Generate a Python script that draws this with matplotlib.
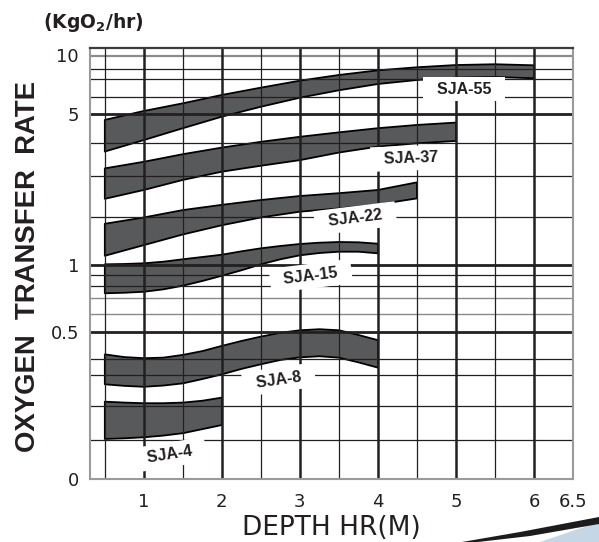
"""
Oxygen transfer rate vs depth for the SJA aerator range
"""

import numpy as np
import matplotlib
matplotlib.use('Agg')
import matplotlib.pyplot as plt
from matplotlib.patches import Polygon

# Donnees (KgO2/hr)
depth = [0.5, 1.0, 1.5, 2.0, 2.5, 3.0, 3.5, 4.0, 4.5, 5.0, 5.5, 6.0]
depth_q = [0.5, 0.75, 1.0, 1.25, 1.5, 1.75, 2.0, 2.25, 2.5, 2.75, 3.0, 3.25, 3.5, 3.75, 4.0]

sja55_hi = [4.79, 5.16, 5.61, 6.10, 6.52, 6.92, 7.42, 7.87, 8.13, 8.30, 8.36, 8.28]
sja55_lo = [3.75, 4.11, 4.51, 4.90, 5.41, 5.94, 6.37, 6.73, 6.96, 7.16, 7.22, 7.10]

sja37_hi = [3.24, 3.44, 3.67, 3.87, 4.05, 4.22, 4.37, 4.51, 4.62, 4.70]
sja37_lo = [2.44, 2.66, 2.91, 3.14, 3.32, 3.49, 3.72, 3.90, 4.00, 4.08]

sja22_hi = [1.85, 1.98, 2.16, 2.29, 2.41, 2.51, 2.58, 2.66, 2.85]
sja22_lo = [1.19, 1.41, 1.63, 1.82, 1.98, 2.12, 2.20, 2.30, 2.45]

sja15_hi = [1.014, 1.021, 1.035, 1.068, 1.118, 1.165, 1.212, 1.282, 1.344, 1.392,
            1.433, 1.460, 1.474, 1.468, 1.439]
sja15_lo = [0.740, 0.744, 0.752, 0.771, 0.800, 0.844, 0.893, 0.947, 1.014, 1.118,
            1.200, 1.247, 1.274, 1.274, 1.241]

sja8_hi = [0.417, 0.407, 0.403, 0.405, 0.415, 0.429, 0.448, 0.466, 0.482, 0.496,
           0.508, 0.514, 0.508, 0.488, 0.469]
sja8_lo = [0.270, 0.265, 0.262, 0.266, 0.273, 0.287, 0.304, 0.338, 0.367, 0.394,
           0.406, 0.410, 0.405, 0.379, 0.346]

sja4_hi = [0.214, 0.211, 0.209, 0.209, 0.211, 0.217, 0.227]
sja4_lo = [0.103, 0.105, 0.108, 0.113, 0.120, 0.132, 0.144]

models = ['SJA-55', 'SJA-37', 'SJA-22', 'SJA-15', 'SJA-8', 'SJA-4']
bands = [(depth, sja55_hi, sja55_lo), (depth, sja37_hi, sja37_lo),
         (depth, sja22_hi, sja22_lo), (depth_q, sja15_hi, sja15_lo),
         (depth_q, sja8_hi, sja8_lo), (depth_q, sja4_hi, sja4_lo)]

# position des etiquettes (depth, rate, angle)
label_pos = [(5.10, 6.44, 0), (4.43, 3.55, 2), (3.71, 1.96, 7),
             (3.14, 0.89, 7), (2.73, 0.285, 8), (1.33, 0.062, 9)]

# echelle verticale du papier (non logarithmique pure)
scale_vals = [0, 0.1, 0.2, 0.3, 0.4, 0.5, 0.6, 0.7, 0.8, 0.9, 1, 2, 3, 4, 5, 6, 7, 8, 9, 10]
scale_pos = [0, 39, 73, 104, 120, 147.3, 165, 180.7, 193.3, 204, 214,
             262.5, 302.7, 335.7, 365.3, 382.3, 399.7, 410, 423.2, 431]


def fwd(v):
    return np.interp(v, scale_vals, scale_pos)


def inv(p):
    return np.interp(p, scale_pos, scale_vals)


fig = plt.figure(figsize=(5.99, 5.42), dpi=100)
ax = fig.add_axes([90 / 599, 63 / 542, 483 / 599, 431 / 542])
ax.set_yscale('function', functions=(fwd, inv))
ax.set_xlim(0.31, 6.5)
ax.set_ylim(0, 10)

band_color = '#58595b'
line_color = '#231f20'

for (xd, hi, lo) in bands:
    n = len(hi)
    xs = list(xd[:n]) + list(xd[:n])[::-1]
    ys = list(hi) + list(lo)[::-1]
    ax.fill(xs, ys, facecolor=band_color, edgecolor='black', linewidth=1.3,
            joinstyle='round', zorder=2)

# grille
for v in [0.1, 0.2, 0.3, 0.4, 0.8, 0.9, 2, 3, 4, 6, 7, 8]:
    ax.axhline(v, color=line_color, linewidth=0.9, zorder=3)
for v in [0.6, 0.7]:
    ax.axhline(v, color='#8a8a8a', linewidth=1.0, zorder=3)
ax.axhline(9, color='#8c8c8c', linewidth=1.6, zorder=3)
for v in [0.5, 1, 5]:
    ax.axhline(v, color=line_color, linewidth=2.0, zorder=3)
for d in np.arange(0.5, 6.0, 1.0):
    ax.axvline(d, color=line_color, linewidth=0.9, zorder=3)
for d in range(1, 7):
    ax.axvline(d, color=line_color, linewidth=1.8, zorder=3)

for name, (lx, ly, rot) in zip(models, label_pos):
    ax.text(lx, ly, '  ' + name + '  ', ha='center', va='center', rotation=rot,
            fontsize=11.5, fontweight='bold', color='#231f20',
            family='Liberation Sans', zorder=5,
            bbox=dict(boxstyle='square,pad=0.3', facecolor='white', edgecolor='none'))

for side in ['left', 'right', 'bottom']:
    ax.spines[side].set_color('#9a9a9a')
    ax.spines[side].set_linewidth(1.5)
ax.spines['top'].set_color('#3c3c3c')
ax.spines['top'].set_linewidth(1.6)
for s in ax.spines.values():
    s.set_zorder(4)

ax.set_yticks([0, 0.5, 1, 5, 10])
ax.set_yticklabels(['0', '0.5', '1', '5', '10'])
ax.set_xticks([1, 2, 3, 4, 5, 6, 6.5])
ax.set_xticklabels(['1', '2', '3', '4', '5', '6', '6.5'])
ax.yaxis.set_minor_locator(matplotlib.ticker.NullLocator())
ax.tick_params(axis='y', length=0, pad=8, labelsize=13, labelcolor='#231f20')
ax.tick_params(axis='x', length=0, pad=10, labelsize=13, labelcolor='#231f20')
ax.get_yticklabels()[-1].set_va('top')

ax.set_xlabel('DEPTH HR(M)', fontsize=19, color='#231f20', labelpad=3)
fig.text(28 / 599, 1 - 267 / 542, 'OXYGEN  TRANSFER  RATE', rotation=90,
         ha='center', va='center', fontsize=19.8, fontweight='bold',
         family='Liberation Sans', color='#231f20')
fig.text(43 / 599, 1 - 22 / 542, r'(KgO$_\mathbf{2}$/hr)', ha='left', va='center',
         fontsize=13.5, fontweight='bold', color='#231f20')

# decoration en bas a droite
blue = [(540, 542), (599, 522), (599, 542)]
swoosh = [(462, 542), (520, 532), (599, 517), (599, 524), (530, 536), (478, 542)]
for pts, col in [(blue, '#c5d6e6'), (swoosh, '#1c1c1c')]:
    fig.patches.append(Polygon([(x / 599, 1 - y / 542) for x, y in pts], closed=True,
                               transform=fig.transFigure, facecolor=col,
                               edgecolor='none'))

fig.savefig('out.png', dpi=100)
